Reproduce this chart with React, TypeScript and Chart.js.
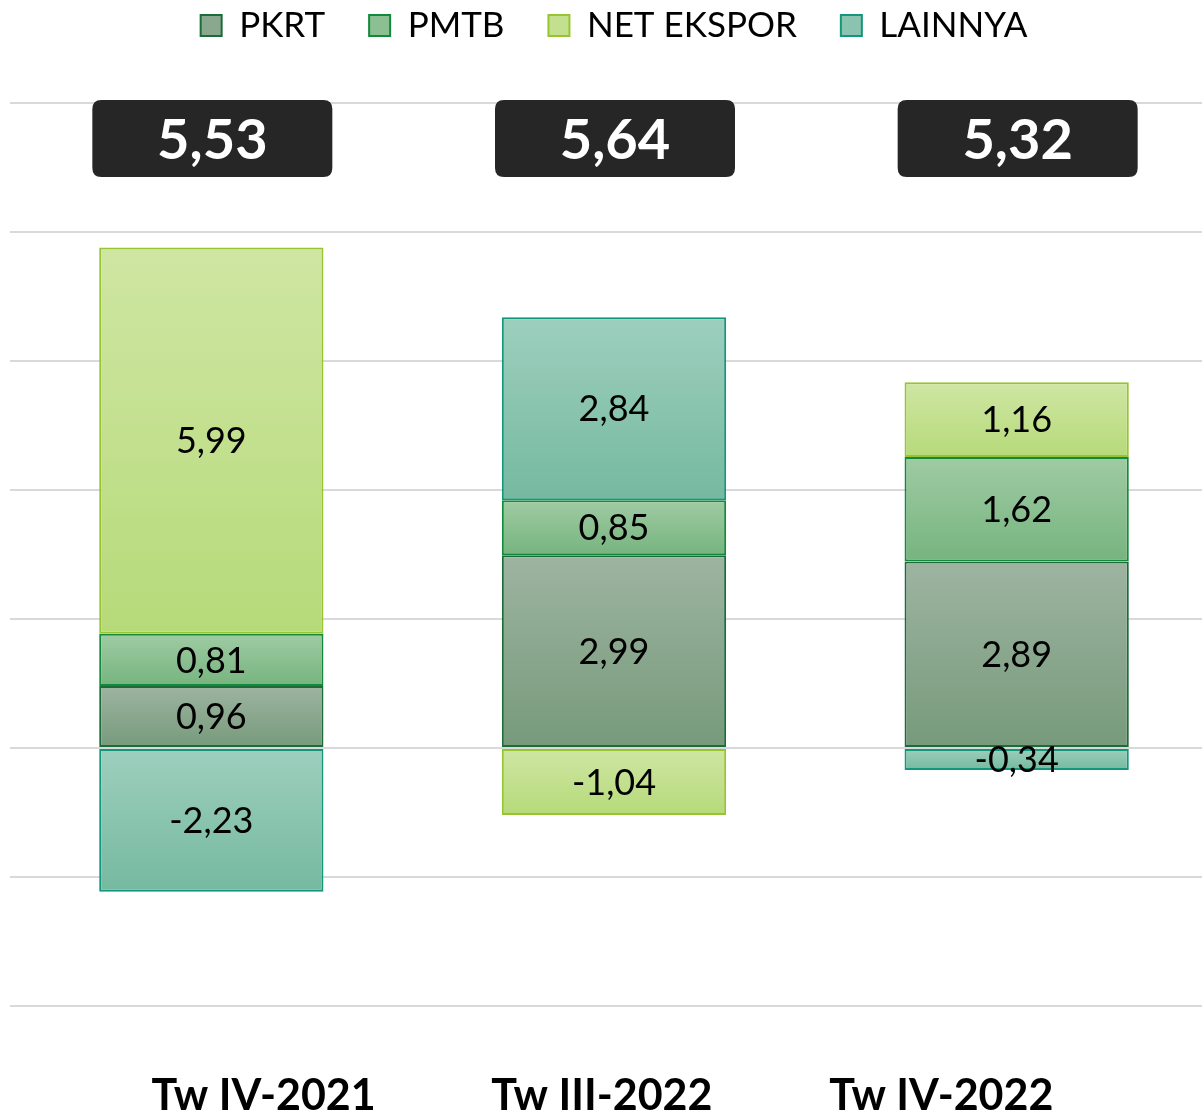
import React, { useEffect, useRef } from 'react';
import { Chart, registerables } from 'chart.js';

Chart.register(...registerables);

// ---- data ----
const CATEGORIES = ['Tw IV-2021', 'Tw III-2022', 'Tw IV-2022'];
const SERIES_NAMES = ['PKRT', 'PMTB', 'NET EKSPOR', 'LAINNYA'];
const PKRT = [0.96, 2.99, 2.89];
const PMTB = [0.81, 0.85, 1.62];
const NET_EKSPOR = [5.99, -1.04, 1.16];
const LAINNYA = [-2.23, 2.84, -0.34];
const TOTALS = [5.53, 5.64, 5.32];
const Y_MIN = -4;
const Y_MAX = 10;
const Y_STEP = 2;

const SERIES = [PKRT, PMTB, NET_EKSPOR, LAINNYA];

// ---- styles ----
const STYLES = [
  { top: '#9db4a1', bottom: '#779a7b', border: '#1c6b3b', legend: '#8aa88e' },
  { top: '#a0cba3', bottom: '#76b47f', border: '#138a3b', legend: '#8cc092' },
  { top: '#cfe6a3', bottom: '#b6da79', border: '#98c431', legend: '#c3e08f' },
  { top: '#9ecfbe', bottom: '#75b9a0', border: '#14967a', legend: '#8ac4b0' },
];
const FONT = 'Lato, "Open Sans", sans-serif';
const X_LABEL_FRACTIONS = [0.21, 0.49, 0.771];

const fmt = (v: number) => v.toFixed(2).replace('.', ',');

function segmentGradient(ctx: any, d: number) {
  const chart = ctx.chart;
  const st = STYLES[d];
  const y = chart.scales && chart.scales.y;
  if (!y || ctx.type !== 'data' || !chart.chartArea) return st.legend;
  const i = ctx.dataIndex;
  const v = SERIES[d][i];
  let base = 0;
  for (let k = 0; k < d; k++) {
    const w = SERIES[k][i];
    if ((w >= 0) === (v >= 0)) base += w;
  }
  const p0 = y.getPixelForValue(base);
  const p1 = y.getPixelForValue(base + v);
  if (!isFinite(p0) || !isFinite(p1)) return st.legend;
  const top = Math.min(p0, p1);
  const bot = Math.max(p0, p1);
  const g = chart.ctx.createLinearGradient(0, top, 0, bot === top ? top + 1 : bot);
  g.addColorStop(0, st.top);
  g.addColorStop(1, st.bottom);
  return g;
}

const legendPatch = {
  id: 'legendPatch',
  beforeUpdate(chart: any) {
    const lg = chart.legend;
    if (lg && !lg.__patched) {
      lg.__patched = true;
      const origFit = lg.fit;
      lg.fit = function () {
        origFit.call(this);
        this.height = 103;
      };
      const origDraw = lg.draw;
      lg.draw = function (...args: any[]) {
        const t = this.top;
        this.top = t - 36;
        origDraw.apply(this, args);
        this.top = t;
      };
    }
  },
};

const valueLabels = {
  id: 'valueLabels',
  afterDatasetsDraw(chart: any) {
    const ctx = chart.ctx;
    ctx.save();
    ctx.font = `36px ${FONT}`;
    ctx.fillStyle = '#000000';
    ctx.textAlign = 'center';
    ctx.textBaseline = 'middle';
    chart.data.datasets.forEach((ds: any, d: number) => {
      const meta = chart.getDatasetMeta(d);
      meta.data.forEach((bar: any, i: number) => {
        const cy = (bar.y + bar.base) / 2;
        ctx.fillText(fmt(ds.data[i]), bar.x, cy + 1);
      });
    });
    ctx.restore();
  },
};

function roundRect(ctx: CanvasRenderingContext2D, x: number, y: number, w: number, h: number, r: number) {
  ctx.beginPath();
  ctx.moveTo(x + r, y);
  ctx.lineTo(x + w - r, y);
  ctx.quadraticCurveTo(x + w, y, x + w, y + r);
  ctx.lineTo(x + w, y + h - r);
  ctx.quadraticCurveTo(x + w, y + h, x + w - r, y + h);
  ctx.lineTo(x + r, y + h);
  ctx.quadraticCurveTo(x, y + h, x, y + h - r);
  ctx.lineTo(x, y + r);
  ctx.quadraticCurveTo(x, y, x + r, y);
  ctx.closePath();
}

const totalsAndAxis = {
  id: 'totalsAndAxis',
  afterDraw(chart: any) {
    const ctx = chart.ctx;
    const area = chart.chartArea;
    const meta = chart.getDatasetMeta(0);
    ctx.save();
    // total boxes
    meta.data.forEach((bar: any, i: number) => {
      const w = 240;
      const h = 77;
      const x = bar.x + 1 - w / 2;
      const y = area.top - 3;
      roundRect(ctx, x, y, w, h, 9);
      ctx.fillStyle = '#262626';
      ctx.fill();
      ctx.fillStyle = '#ffffff';
      ctx.font = `bold 56px ${FONT}`;
      ctx.textAlign = 'center';
      ctx.textBaseline = 'middle';
      ctx.fillText(fmt(TOTALS[i]), bar.x + 1, y + h / 2 + 2);
    });
    // category labels
    ctx.fillStyle = '#000000';
    ctx.font = `bold 43px ${FONT}`;
    ctx.textAlign = 'center';
    ctx.textBaseline = 'alphabetic';
    CATEGORIES.forEach((c, i) => {
      const x = area.left + area.width * X_LABEL_FRACTIONS[i];
      ctx.fillText(c, x, area.bottom + 104);
    });
    ctx.restore();
  },
};

export default function App() {
  const ref = useRef<HTMLCanvasElement | null>(null);
  useEffect(() => {
    if (!ref.current) return;
    const chart = new Chart(ref.current, {
      type: 'bar',
      data: {
        labels: CATEGORIES,
        datasets: SERIES_NAMES.map((name, d) => ({
          label: name,
          data: SERIES[d],
          backgroundColor: (ctx: any) => segmentGradient(ctx, d),
          borderColor: STYLES[d].border,
          borderWidth: 2,
          borderSkipped: false,
          categoryPercentage: 1,
          barPercentage: 0.557,
        })),
      },
      options: {
        animation: false,
        responsive: false,
        devicePixelRatio: 1,
        layout: { padding: { left: 10, right: 0, top: 0, bottom: 107 } },
        plugins: {
          legend: {
            display: true,
            position: 'top',
            labels: {
              boxWidth: 21,
              boxHeight: 21,
              padding: 44,
              color: '#000000',
              font: { family: FONT, size: 35 },
              generateLabels: () =>
                SERIES_NAMES.map((name, i) => ({
                  text: name,
                  fillStyle: STYLES[i].legend,
                  strokeStyle: STYLES[i].border,
                  lineWidth: 2,
                  hidden: false,
                  datasetIndex: i,
                  fontColor: '#000000',
                })),
            },
          },
          tooltip: { enabled: false },
        },
        scales: {
          x: {
            stacked: true,
            display: false,
            grid: { display: false },
          },
          y: {
            stacked: true,
            min: Y_MIN,
            max: Y_MAX,
            ticks: { display: false, stepSize: Y_STEP },
            grid: { color: '#d9d9d9', lineWidth: 2, drawTicks: false },
            border: { display: false },
          },
        },
      },
      plugins: [legendPatch, valueLabels, totalsAndAxis],
    } as any);
    return () => chart.destroy();
  }, []);
  return (
    <div style={{ position: 'fixed', left: 0, top: 0, width: 1202, height: 1113, overflow: 'hidden', background: '#ffffff' }}>
      <canvas ref={ref} width={1218} height={1113} style={{ width: 1218, height: 1113, display: 'block' }} />
    </div>
  );
}
